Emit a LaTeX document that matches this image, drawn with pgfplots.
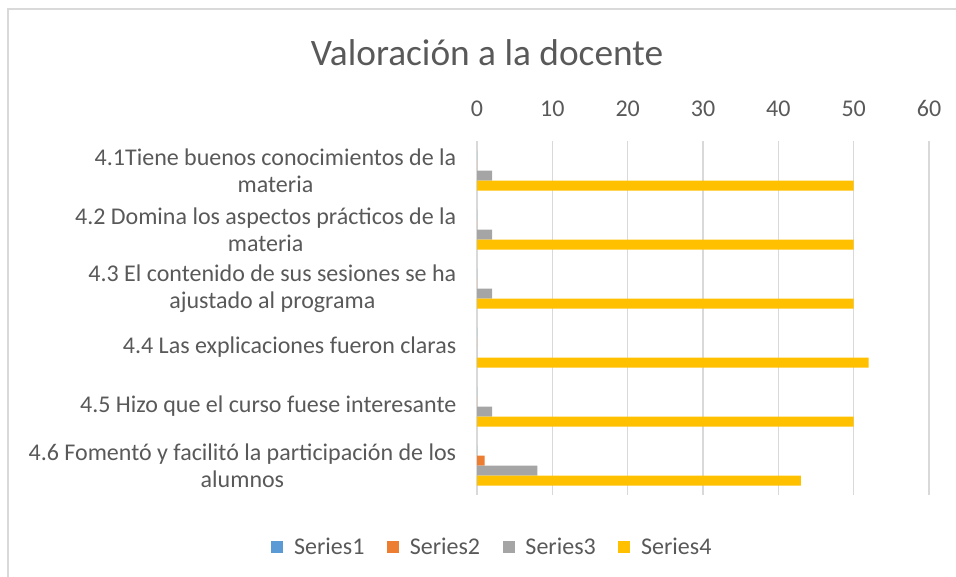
\documentclass[border=0pt]{standalone}
\usepackage{pgfplots}
\pgfplotsset{compat=1.18}
\usepackage{fontspec}
\setmainfont{Carlito}
\definecolor{txt}{HTML}{595959}
\definecolor{gridc}{HTML}{D9D9D9}
\definecolor{s1}{HTML}{5B9BD5}
\definecolor{s2}{HTML}{ED7D31}
\definecolor{s3}{HTML}{A5A5A5}
\definecolor{s4}{HTML}{FFC000}
\begin{document}
\begin{tikzpicture}[x=0.75pt,y=-0.75pt]
\path[use as bounding box] (0,0) rectangle (956,577);
\begin{scope}
\clip (0,0) rectangle (956,577);
\draw[gridc, line width=1.5pt] (8,9) rectangle (980,600);
\end{scope}
\node[txt, font=\fontsize{28}{32}\selectfont] at (487,53) {Valoración a la docente};
\begin{axis}[
  at={(357.75pt,-371.25pt)}, anchor=south west,
  scale only axis, width=339pt, height=265.5pt,
  xbar, bar width=7.5pt,
  xmin=0, xmax=60, ymin=-0.5, ymax=5.5,
  axis line style={draw=none},
  xtick={0,10,...,60},
  xticklabel pos=top,
  xmajorgrids=true, ymajorgrids=false,
  major x grid style={draw=gridc, line width=1.2pt},
  major tick length=0pt,
  ytick={0,...,5},
  yticklabels={{4.6 Fomentó y facilitó la participación de los\\alumnos},{4.5 Hizo que el curso fuese interesante},{4.4 Las explicaciones fueron claras},{4.3 El contenido de sus sesiones se ha\\ajustado al programa},{4.2 Domina los aspectos prácticos de la\\materia},{4.1Tiene buenos conocimientos de la\\materia}},
  yticklabel style={align=center, font=\fontsize{18}{20.25}\selectfont, text=txt, xshift=-12pt},
  xticklabel style={font=\fontsize{18}{20}\selectfont, text=txt, yshift=15pt},
  /pgf/number format/assume math mode=true,
  tick label style={text=txt},
  legend columns=4,
  legend style={at={(0.035,-0.147)}, anchor=center, draw=none, font=\fontsize{18}{20}\selectfont, text=txt, /tikz/every even column/.append style={column sep=15pt}, /tikz/every odd column/.append style={column sep=6pt}},
  legend image code/.code={\fill[#1, draw=none] (0pt,-4.5pt) rectangle (9pt,4.5pt);},
]
\addplot[fill=s1, draw=none, bar shift=11.25pt] coordinates {(0,5) (0,4) (0,3) (0,2) (0,1) (0,0)};
\addplot[fill=s2, draw=none, bar shift=3.75pt] coordinates {(0,5) (0,4) (0,3) (0,2) (0,1) (1,0)};
\addplot[fill=s3, draw=none, bar shift=-3.75pt] coordinates {(2,5) (2,4) (2,3) (0,2) (2,1) (8,0)};
\addplot[fill=s4, draw=none, bar shift=-11.25pt] coordinates {(50,5) (50,4) (50,3) (52,2) (50,1) (43,0)};
\legend{Series1,Series2,Series3,Series4}
\end{axis}
\end{tikzpicture}
\end{document}
